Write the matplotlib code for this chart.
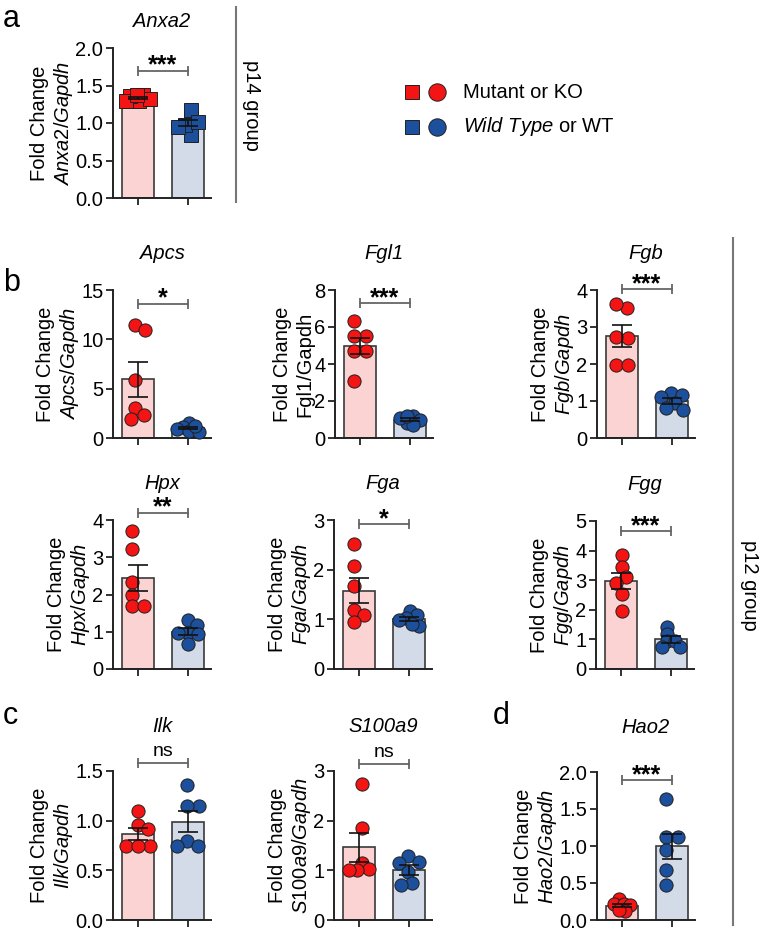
import numpy as np
import matplotlib
matplotlib.use('Agg')
import matplotlib.pyplot as plt

plt.rcParams['font.family'] = ['Liberation Sans', 'DejaVu Sans']
plt.rcParams['mathtext.fontset'] = 'custom'
plt.rcParams['mathtext.rm'] = 'Liberation Sans'
plt.rcParams['mathtext.it'] = 'Liberation Sans:italic'

W, H = 762, 935

# values (mutant/KO, wild type)
anxa2_mut = [1.30, 1.37, 1.36, 1.32, 1.29, 1.38]
anxa2_wt = [0.84, 1.05, 1.18, 0.97, 0.95, 1.01]
apcs_mut = [11.5, 10.9, 5.9, 3.0, 1.95, 2.36]
apcs_wt = [1.5, 1.1, 0.9, 0.7, 0.6, 1.2]
fgl1_mut = [6.3, 5.5, 5.5, 4.7, 4.7, 3.1]
fgl1_wt = [1.2, 1.0, 0.8, 1.1, 0.7, 1.2]
fgb_mut = [3.51, 3.63, 2.70, 2.72, 1.96, 1.96]
fgb_wt = [1.22, 1.12, 1.17, 0.95, 0.80, 0.76]
hpx_mut = [3.71, 3.22, 2.33, 1.99, 1.68, 1.68]
hpx_wt = [1.32, 1.19, 0.96, 0.96, 0.66, 0.93]
fga_mut = [2.51, 2.08, 1.68, 1.19, 1.08, 0.94]
fga_wt = [1.17, 1.08, 1.03, 0.98, 0.87, 0.90]
fgg_mut = [3.85, 3.45, 3.10, 2.90, 2.55, 1.95]
fgg_wt = [1.43, 1.18, 0.93, 0.93, 0.76, 0.76]
ilk_mut = [1.10, 0.96, 0.92, 0.74, 0.74, 0.75]
ilk_wt = [1.36, 1.15, 1.15, 0.80, 0.74, 0.74]
s100a9_mut = [2.73, 1.85, 1.14, 1.03, 1.01, 1.01]
s100a9_wt = [1.28, 1.17, 1.15, 0.96, 0.75, 0.70]
hao2_mut = [0.28, 0.22, 0.22, 0.20, 0.12, 0.13]
hao2_wt = [1.64, 1.12, 1.12, 0.94, 0.67, 0.47]

genes = ['Anxa2', 'Apcs', 'Fgl1', 'Fgb', 'Hpx', 'Fga', 'Fgg', 'Ilk', 'S100a9', 'Hao2']
mut_vals = [anxa2_mut, apcs_mut, fgl1_mut, fgb_mut, hpx_mut, fga_mut, fgg_mut,
            ilk_mut, s100a9_mut, hao2_mut]
wt_vals = [anxa2_wt, apcs_wt, fgl1_wt, fgb_wt, hpx_wt, fga_wt, fgg_wt,
           ilk_wt, s100a9_wt, hao2_wt]
yticks = [[0, 0.5, 1.0, 1.5, 2.0], [0, 5, 10, 15], [0, 2, 4, 6, 8], [0, 1, 2, 3, 4],
          [0, 1, 2, 3, 4], [0, 1, 2, 3], [0, 1, 2, 3, 4, 5], [0, 0.5, 1.0, 1.5],
          [0, 1, 2, 3], [0, 0.5, 1.0, 1.5, 2.0]]
tickfmt = ['{:.1f}', '{:g}', '{:g}', '{:g}', '{:g}', '{:g}', '{:g}', '{:.1f}', '{:g}', '{:.1f}']
signif = ['***', '*', '***', '***', '**', '*', '***', 'ns', 'ns', '***']
bracket_y = [1.70, 13.6, 7.3, 4.02, 4.2, 2.92, 4.65, 1.58, 3.15, 1.89]

# axes boxes in pixels: left, top, right, bottom
boxes = [(113, 48, 211, 198),
         (113, 290, 211, 438), (335, 290, 433, 438), (597, 290, 695, 438),
         (113, 520, 211, 669), (334, 520, 432, 669), (596, 521, 694, 669),
         (113, 771, 211, 920), (334, 771, 432, 920), (597, 772, 695, 920)]
title_pad = [15, 22, 22, 22, 22, 22, 22, 28, 28, 28]

red_bar, blue_bar = '#fbd3d3', '#d3dbe9'
red_pt, blue_pt = '#f51414', '#1c4f9c'


def swarm(ax, x0, vals, diam, max_spread=13):
    # beeswarm in pixel space, squeezed until it fits inside the bar
    tr = ax.transData
    cx = tr.transform((x0, 0))[0]
    ys = [tr.transform((x0, v))[1] for v in vals]
    order = np.argsort(vals)[::-1]
    steps = [0]
    for k in range(1, 40):
        steps += [k * 0.1, -k * 0.1]
    thr = 0.85
    while True:
        placed = []
        offs = np.zeros(len(vals))
        for i in order:
            for s in steps:
                xp = cx + s * diam
                if all((xp - a) ** 2 + (ys[i] - b) ** 2 >= (thr * diam) ** 2 for a, b in placed):
                    break
            placed.append((xp, ys[i]))
            offs[i] = xp - cx
        if np.abs(offs).max() <= max_spread or thr < 0.2:
            break
        thr -= 0.05
    offs -= (offs.max() + offs.min()) / 2
    inv = tr.inverted()
    return np.array([inv.transform((cx + o, y))[0] for o, y in zip(offs, ys)])


fig = plt.figure(figsize=(W / 100, H / 100), dpi=100)

ov = fig.add_axes([0, 0, 1, 1])
ov.set_xlim(0, W)
ov.set_ylim(H, 0)
ov.axis('off')

for i, g in enumerate(genes):
    l, t, r, b = boxes[i]
    ax = fig.add_axes([l / W, 1 - b / H, (r - l) / W, (b - t) / H])
    ax.set_xlim(-0.5, 1.46)
    ax.set_ylim(0, yticks[i][-1])
    ax.set_yticks(yticks[i])
    ax.set_yticklabels([tickfmt[i].format(v) for v in yticks[i]])
    ax.set_xticks([0, 1])
    ax.set_xticklabels([])
    for s in ['top', 'right']:
        ax.spines[s].set_visible(False)
    for s in ['left', 'bottom']:
        ax.spines[s].set_linewidth(1.4)
        ax.spines[s].set_color('#222222')
    ax.tick_params(direction='out', length=5, width=1.3, labelsize=14.5, colors='#222222', pad=2)
    ax.tick_params(axis='y', labelcolor='black')

    marker = 's' if i == 0 else 'o'
    for j, (vals, fc, pc) in enumerate([(mut_vals[i], red_bar, red_pt),
                                          (wt_vals[i], blue_bar, blue_pt)]):
        vals = np.array(vals)
        m = vals.mean()
        sem = vals.std(ddof=1) / np.sqrt(len(vals))
        ax.bar(j, m, width=0.64, color=fc, edgecolor='#3a3a3a', linewidth=1.2, zorder=2)
        xs = swarm(ax, j, vals, 13)
        ax.plot(xs, vals, linestyle='none', marker=marker, ms=9.5, mfc=pc,
                mec='#202020', mew=0.7, zorder=3, clip_on=False)
        ax.errorbar(j, m, yerr=sem, color='#111111', elinewidth=1.2, capsize=7,
                    capthick=1.2, zorder=4)

    by = bracket_y[i]
    ax.plot([0, 1], [by, by], color='#666666', lw=1.3, marker='|', ms=7,
            mew=1.3, clip_on=False)
    if signif[i] == 'ns':
        ax.annotate('ns', (0.5, by), xytext=(0, 2), textcoords='offset points',
                    ha='center', va='bottom', fontsize=14, annotation_clip=False)
    else:
        ax.annotate(signif[i], (0.5, by), xytext=(0, -5), textcoords='offset points',
                    ha='center', va='bottom', fontsize=18, fontweight='bold',
                    annotation_clip=False)

    ax.set_title(g, style='italic', fontsize=14.5, pad=title_pad[i])
    if g == 'Fgl1':
        ax.set_ylabel('Fold Change\nFgl1/Gapdh', fontsize=14.5, labelpad=0)
    else:
        ax.set_ylabel('Fold Change\n$\\mathit{' + g + '/Gapdh}$', fontsize=14.5, labelpad=0)

# panel letters
for lab, x, y in [('a', 3, 27), ('b', 3, 291), ('c', 3, 724), ('d', 493, 724)]:
    ov.text(x, y, lab, fontsize=22, va='baseline', ha='left')

# group separators
ov.plot([236, 236], [7, 202], color='#777777', lw=1.5)
ov.plot([733, 733], [238, 925], color='#777777', lw=1.5)
ov.text(252, 105, 'p14 group', rotation=270, fontsize=14.5, ha='center', va='center')
ov.text(749, 585, 'p12 group', rotation=270, fontsize=14.5, ha='center', va='center')

# legend
for y, c, lab in [(92, red_pt, 'Mutant or KO'), (127, blue_pt, '$\\mathit{Wild\\ Type}$ or WT')]:
    ov.plot([412], [y], marker='s', ms=10.5, mfc=c, mec='#202020', mew=0.7)
    ov.plot([437], [y], marker='o', ms=12.5, mfc=c, mec='#202020', mew=0.7)
    ov.text(463, y, lab, fontsize=14.5, va='center', ha='left')

fig.savefig('out.png', dpi=100)
